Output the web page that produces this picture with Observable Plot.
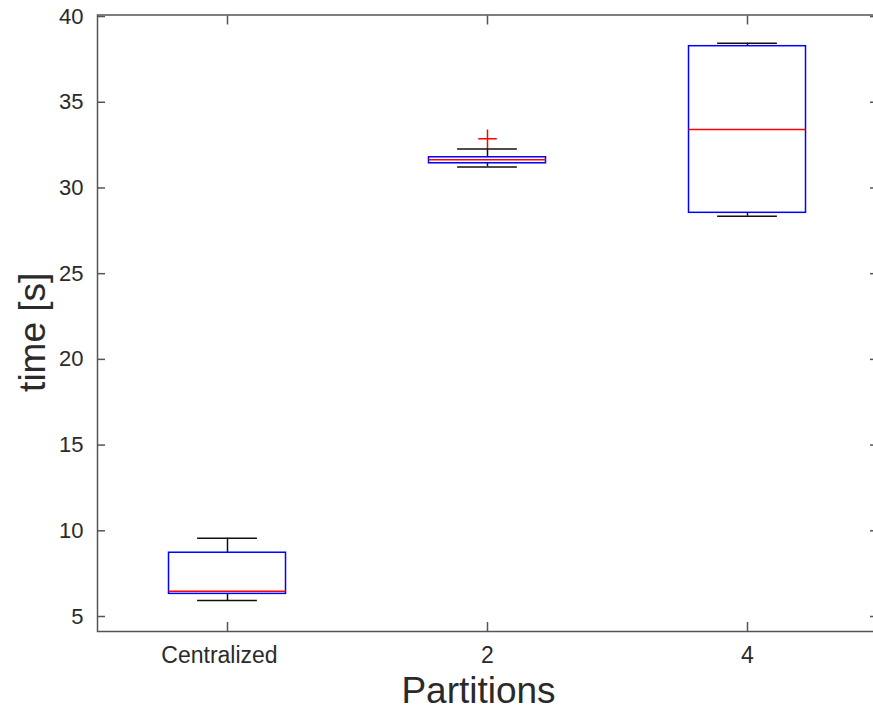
<!DOCTYPE html>
<html>
<head>
<meta charset="utf-8">
<script src="https://cdn.jsdelivr.net/npm/d3@7"></script>
<script src="https://cdn.jsdelivr.net/npm/@observablehq/plot@0.6"></script>
<style>
  html, body { margin: 0; padding: 0; background: #fff; overflow: hidden; }
  #chart { width: 873px; height: 711px; overflow: hidden; }
  #chart svg { display: block; max-width: none !important; }
</style>
</head>
<body>
<div id="chart"></div>
<script>
// ---- data ----
const categories  = ["Centralized", "2", "4"];
const whiskerLow  = [5.93, 31.23, 28.35];
const quart1      = [6.32, 31.44, 28.55];
const medians     = [6.48, 31.64, 33.41];
const quart3      = [8.72, 31.79, 38.27];
const whiskerHigh = [9.57, 32.28, 38.44];
const outlierCats   = ["2"];
const outlierValues = [32.87];
const yTicks = [5, 10, 15, 20, 25, 30, 35, 40];

// ---- derived tables ----
const rows = categories.map((c, i) => ({
  cat: c, pos: i + 1,
  lo: whiskerLow[i], q1: quart1[i], med: medians[i], q3: quart3[i], hi: whiskerHigh[i]
}));
const outliers = outlierCats.map((c, i) => ({pos: categories.indexOf(c) + 1, value: outlierValues[i]}));
const positions = rows.map(d => d.pos);

const boxHalf = 0.225, capHalf = 0.115;
const frameColor = "#555";
const textColor = "#2a2a2a";

const chart = Plot.plot({
  width: 877,
  height: 711,
  marginLeft: 97,
  marginRight: 0,
  marginTop: 14.5,
  marginBottom: 80,
  style: {fontFamily: "'Liberation Sans', Arial, sans-serif", fontSize: "22px", color: textColor, background: "#fff"},
  x: {domain: [0.5, 3.5], axis: null},
  y: {domain: [4.125, 40.09], axis: null},
  marks: [
    // axes: labels
    Plot.axisY(yTicks, {anchor: "left", tickSize: 0, tickPadding: 14, fontSize: 22, fill: textColor, label: null}),
    Plot.axisX(positions.slice(0, 1), {anchor: "bottom", tickSize: 0, tickPadding: 15, fontSize: 23, fill: textColor,
      dx: -8, tickFormat: d => categories[d - 1], label: null}),
    Plot.axisX(positions.slice(1), {anchor: "bottom", tickSize: 0, tickPadding: 15, fontSize: 23, fill: textColor,
      tickFormat: d => categories[d - 1], label: null}),
    // inward ticks on all four sides
    Plot.axisY(yTicks, {anchor: "left", tickSize: -8, tickFormat: () => "", stroke: frameColor, strokeWidth: 1.5, label: null}),
    Plot.axisY(yTicks, {anchor: "right", tickSize: -8, tickFormat: () => "", stroke: frameColor, strokeWidth: 1.5, label: null}),
    Plot.axisX(positions, {anchor: "bottom", tickSize: -9, tickFormat: () => "", stroke: frameColor, strokeWidth: 1.5, label: null}),
    Plot.axisX(positions, {anchor: "top", tickSize: -9, tickFormat: () => "", stroke: frameColor, strokeWidth: 1.5, label: null}),
    Plot.frame({stroke: frameColor, strokeWidth: 1.5}),
    // whiskers
    Plot.ruleX(rows, {x: "pos", y1: "q3", y2: "hi", stroke: "#111", strokeWidth: 1.5}),
    Plot.ruleX(rows, {x: "pos", y1: "lo", y2: "q1", stroke: "#111", strokeWidth: 1.5}),
    Plot.ruleY(rows, {y: "hi", x1: d => d.pos - capHalf, x2: d => d.pos + capHalf, stroke: "#111", strokeWidth: 1.5}),
    Plot.ruleY(rows, {y: "lo", x1: d => d.pos - capHalf, x2: d => d.pos + capHalf, stroke: "#111", strokeWidth: 1.5}),
    // boxes
    Plot.rect(rows, {x1: d => d.pos - boxHalf, x2: d => d.pos + boxHalf, y1: "q1", y2: "q3",
      fill: "none", stroke: "#0000ff", strokeWidth: 1.5}),
    Plot.ruleY(rows, {y: "med", x1: d => d.pos - boxHalf, x2: d => d.pos + boxHalf, stroke: "#ff0000", strokeWidth: 1.5}),
    // outliers
    Plot.dot(outliers, {x: "pos", y: "value", symbol: "plus", stroke: "#ff0000", r: 6, strokeWidth: 1.5}),
    // axis titles
    Plot.text(["time [s]"], {text: d => d, frameAnchor: "left", textAnchor: "middle", lineAnchor: "middle",
      rotate: -90, dx: -64, dy: 9, fontSize: 37, fill: textColor}),
    Plot.text(["Partitions"], {text: d => d, frameAnchor: "bottom", textAnchor: "middle", lineAnchor: "middle",
      dx: -9, dy: 60, fontSize: 37, fill: textColor})
  ]
});
document.getElementById("chart").appendChild(chart);
</script>
</body>
</html>
